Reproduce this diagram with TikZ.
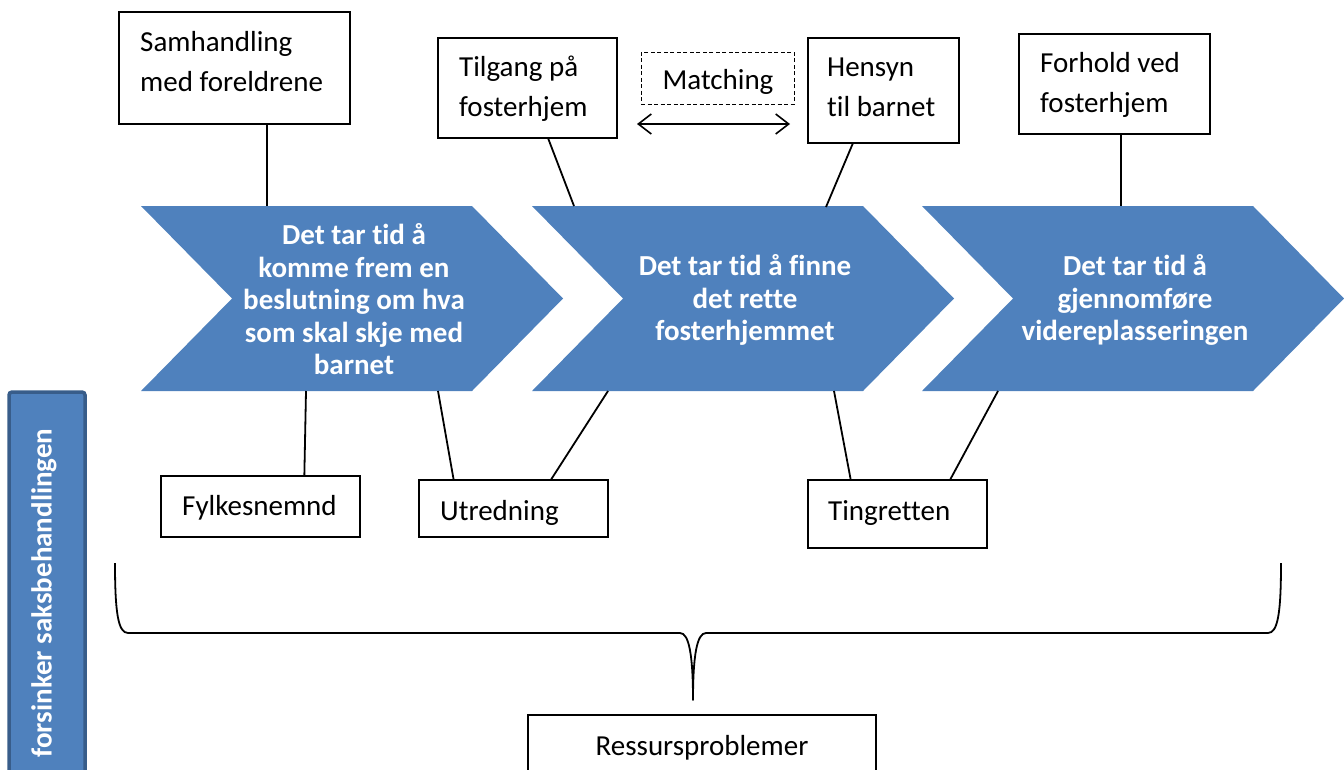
\documentclass[tikz,border=0pt]{standalone}
\usepackage{fontspec}
\setmainfont[Ligatures=NoCommon]{Carlito}
\usetikzlibrary{arrows.meta,calc}
\definecolor{chev}{HTML}{4F81BD}
\definecolor{chevdark}{HTML}{385D8A}
\begin{document}
\begin{tikzpicture}[x=1pt,y=-1pt,
  box/.style={draw=black, line width=1.2pt, fill=white, inner sep=0pt},
  lbl/.style={font=\fontsize{29}{40}\selectfont, align=left, anchor=west, inner sep=0pt, text=black},
  chtext/.style={font=\fontsize{29}{32.5}\selectfont\bfseries, align=center, text=white, inner sep=0pt},
  conn/.style={line width=1.8pt, black},
  chevshape/.style={fill=chev, draw=none}]
\useasboundingbox (0,0) rectangle (1344,769);

% chevrons
\foreach \x in {141,532,922}
  \fill[chevshape] (\x,206) -- ++(331,0) -- ++(91,92.5) -- ++(-91,92.5) -- ++(-331,0) -- ++(91,-92.5) -- cycle;

\node[chtext] (t1) at (354,299.5) {Det tar tid å\\komme frem en\\beslutning om hva\\som skal skje med\\barnet};
\node[chtext] (t2) at (745,300) {Det tar tid å finne\\det rette\\fosterhjemmet};
\node[chtext] (t3) at (1135,300) {Det tar tid å\\gjennomføre\\videreplasseringen};

% left bar
\draw[draw=chevdark, fill=chev, line width=3.5pt, rounded corners=3pt] (9,392) rectangle (85,800);
\node[rotate=90, font=\fontsize{29}{32}\selectfont\bfseries, text=white, inner sep=0pt] (bar) at (44,593) {forsinker saksbehandlingen};

% boxes
\node[box, minimum width=231pt, minimum height=112pt] (samh) at (234.5,68) {};
\node[box, minimum width=179pt, minimum height=100pt] (tilg) at (527.5,88) {};
\node[box, draw=black, dash pattern=on 4pt off 2.5pt, line width=1pt, minimum width=153pt, minimum height=52pt] (match) at (717.5,78) {};
\node[box, minimum width=151pt, minimum height=105pt] (hens) at (883.5,90.5) {};
\node[box, minimum width=191pt, minimum height=100pt] (forh) at (1114.5,84) {};
\node[box, minimum width=199pt, minimum height=61pt] (fylk) at (260.5,506.5) {};
\node[box, minimum width=189pt, minimum height=57pt] (utr) at (513.5,508.5) {};
\node[box, minimum width=179pt, minimum height=68pt] (ting) at (897.5,514) {};
\node[box, minimum width=348pt, minimum height=75pt] (ress) at (702,752.5) {};

% labels
\node[lbl] (lsamh) at (140,62) {Samhandling\\med foreldrene};
\node[lbl] (ltilg) at (459,89) {Tilgang på\\fosterhjem};
\node[lbl, anchor=center] (lmatch) at (718,82) {Matching};
\node[lbl] (lhens) at (827,87) {Hensyn\\til barnet};
\node[lbl] (lforh) at (1040,85) {Forhold ved\\fosterhjem};
\node[lbl] (lfylk) at (182,508) {Fylkesnemnd};
\node[lbl] (lutr) at (440,513) {Utredning};
\node[lbl] (lting) at (828,513) {Tingretten};
\node[lbl, anchor=center] (lress) at (702,748) {Ressursproblemer};

% chevron attachment points
\coordinate (a1) at (267,206);
\coordinate (a2) at (574,206);
\coordinate (a3) at (826,207);
\coordinate (a4) at (1121,206);
\coordinate (b1) at (306,391);
\coordinate (b2) at (438,391);
\coordinate (b3) at (608,391);
\coordinate (b4) at (834,391);
\coordinate (b5) at (998,391);

% connectors
\draw[conn] (a1 |- samh.south) -- (a1);
\draw[conn] ($(tilg.south west)!0.615!(tilg.south east)$) -- (a2);
\draw[conn] ($(hens.south west)!0.298!(hens.south east)$) -- (a3);
\draw[conn] (a4 |- forh.south) -- (a4);
\draw[conn] (b1) -- ($(fylk.north west)!0.719!(fylk.north east)$);
\draw[conn] (b2) -- ($(utr.north west)!0.185!(utr.north east)$);
\draw[conn] (b3) -- ($(utr.north west)!0.698!(utr.north east)$);
\draw[conn] (b4) -- ($(ting.north west)!0.24!(ting.north east)$);
\draw[conn] (b5) -- ($(ting.north west)!0.793!(ting.north east)$);

% matching arrow
\coordinate (m1) at (637,124);
\coordinate (m2) at (790,124);
\draw[line width=1.6pt, {Straight Barb[length=13pt,width=20pt]}-{Straight Barb[length=13pt,width=20pt]}] (m1) -- (m2);

% brace
\draw[line width=1.8pt, line join=round]
  (115,563) .. controls (115,612) and (118,633) .. (128,633) -- (680,633)
  .. controls (689,633) and (693,655) .. (693,700)
  .. controls (693,655) and (697,633) .. (706,633) -- (1268,633)
  .. controls (1278,633) and (1281,612) .. (1281,563);
\end{tikzpicture}
\end{document}
